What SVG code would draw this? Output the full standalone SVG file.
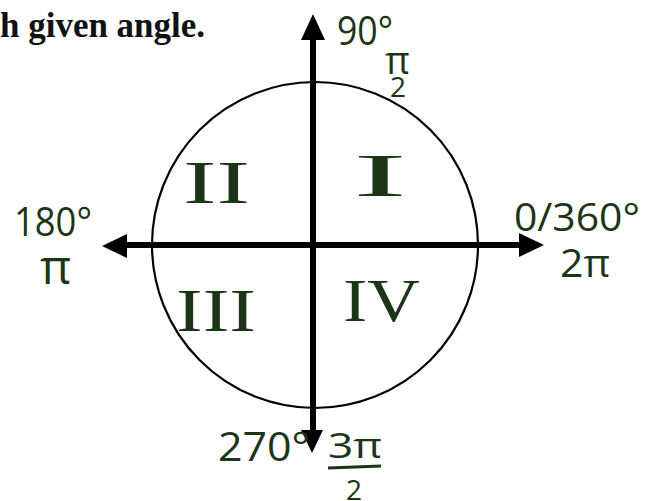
<svg xmlns="http://www.w3.org/2000/svg" width="652" height="501" viewBox="0 0 652 501">
<defs>
<style>
.hw{font-family:"Open Sans","Liberation Sans",sans-serif;fill:#1b3516;}
.rn{font-family:"Liberation Serif","DejaVu Serif",serif;fill:#1b3516;}
.ax{stroke:#000;stroke-width:6;fill:none;}
</style>
</defs>
<rect width="652" height="501" fill="#fff"/>
<text x="0" y="37" font-family="'Liberation Serif',serif" font-weight="bold" font-size="35" textLength="205" lengthAdjust="spacingAndGlyphs" fill="#111">h given angle.</text>
<g id="circle"><ellipse cx="315" cy="245" rx="163" ry="163" fill="none" stroke="#000" stroke-width="2.2"/></g>
<g id="connectors">
<line class="ax" x1="313" y1="40" x2="313" y2="430"/>
<path d="M313,14 L301,40 L325,40 Z" fill="#000"/>
<path d="M312,453 L301,430 L323,430 Z" fill="#000"/>
<line class="ax" x1="127" y1="245" x2="520" y2="245"/>
<path d="M102,246 L127,234 L127,258 Z" fill="#000"/>
<path d="M544,245 L519,233 L519,257 Z" fill="#000"/>
</g>
<g id="q1"><text class="rn" x="353" y="196" font-size="62" textLength="54" lengthAdjust="spacingAndGlyphs">I</text></g>
<g id="q2"><text class="rn" x="183" y="203" font-size="62" textLength="67" lengthAdjust="spacingAndGlyphs">II</text></g>
<g id="q3"><text class="rn" x="176" y="331" font-size="62" textLength="80" lengthAdjust="spacingAndGlyphs">III</text></g>
<g id="q4"><text class="rn" x="343" y="321" font-size="62" textLength="77" lengthAdjust="spacingAndGlyphs">IV</text></g>
<g id="l90">
<text class="hw" x="337" y="45" font-size="40" textLength="56" lengthAdjust="spacingAndGlyphs">90°</text>
<text class="hw" x="385" y="74" font-size="38">π</text>
<text class="hw" x="390" y="97" font-size="28">2</text>
</g>
<g id="l180">
<text class="hw" x="14" y="236" font-size="40" textLength="78" lengthAdjust="spacingAndGlyphs">180°</text>
<text class="hw" x="40" y="284" font-size="48">π</text>
</g>
<g id="l0">
<text class="hw" x="514" y="231" font-size="38" textLength="126" lengthAdjust="spacingAndGlyphs">0/360°</text>
<text class="hw" x="560" y="277" font-size="38" textLength="50" lengthAdjust="spacingAndGlyphs">2π</text>
</g>
<g id="l270">
<text class="hw" x="218" y="461" font-size="40" textLength="92" lengthAdjust="spacingAndGlyphs">270°</text>
<text class="hw" x="328" y="458" font-size="34" textLength="54" lengthAdjust="spacingAndGlyphs">3π</text>
<line x1="328" y1="468" x2="381" y2="466" stroke="#1b3516" stroke-width="3"/>
<text class="hw" x="346" y="500" font-size="28">2</text>
</g>
</svg>
